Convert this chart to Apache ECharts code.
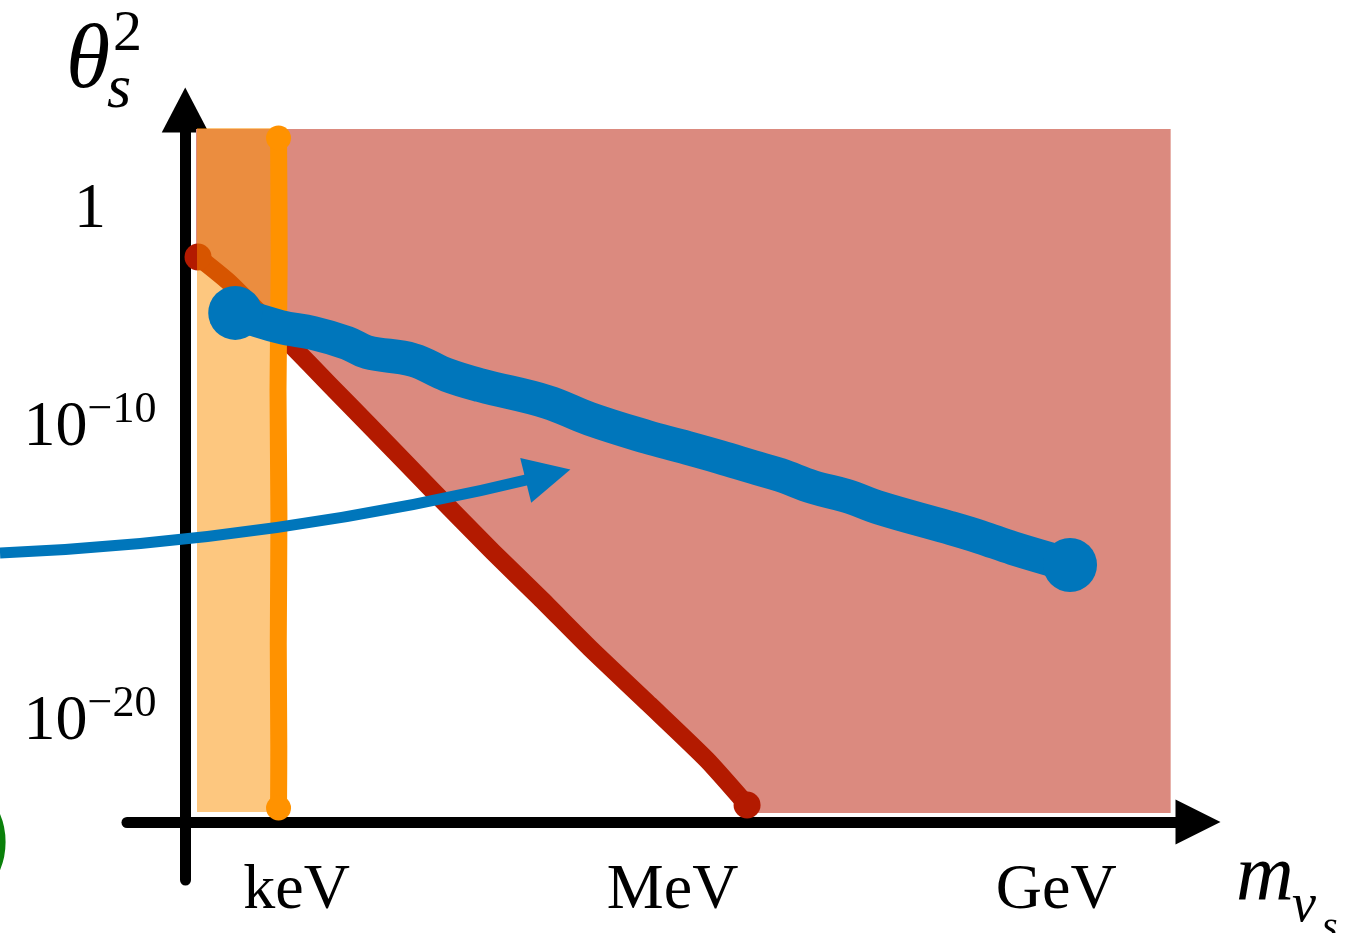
<!DOCTYPE html>
<html>
<head>
<meta charset="utf-8">
<script src="https://cdn.jsdelivr.net/npm/echarts@6/dist/echarts.min.js"></script>
<style>
html, body { margin: 0; padding: 0; background: #fff; }
#chart { width: 1347px; height: 933px; }
</style>
</head>
<body>
<div id="chart"></div>
<script>
// sketch units: x = decades of mass counted from the vertical axis, y = height above the horizontal axis
var xTickValues = [0.88, 3.85, 6.88];
var xTickLabels = ['keV', 'MeV', 'GeV'];
var yTickValues = [24.07, 15.49, 3.93];
var yTickBase = ['1', '10', '10'];
var yTickExp = ['', '−10', '−20'];

// red bound (diagonal)
var redX = [0.101, 0.354, 0.828, 1.144, 1.460, 1.957, 2.431, 2.803, 3.197, 3.671, 4.122, 4.438];
var redY = [22.22, 21.19, 18.80, 17.18, 15.57, 13.02, 10.62, 8.81, 6.84, 4.60, 2.44, 0.67];

// blue band
var blueX = [0.395, 0.749, 1.009, 1.278, 1.436, 1.799, 2.068, 2.329, 2.858, 3.197, 3.648, 3.908, 4.224, 4.485, 4.698, 4.959, 5.227, 5.488, 6.017, 6.278, 6.539, 6.989];
var blueY = [20.02, 19.47, 19.23, 18.84, 18.48, 18.17, 17.58, 17.18, 16.52, 15.85, 15.14, 14.79, 14.35, 13.96, 13.65, 13.17, 12.82, 12.35, 11.60, 11.21, 10.77, 10.11];

// orange vertical bound
var orangeX = [0.737, 0.742, 0.733, 0.740, 0.735, 0.739, 0.737];
var orangeY = [26.9, 22.0, 17.0, 12.0, 7.0, 3.0, 0.55];

// excluded region corners (closed along the red bound)
var shadeX = [0.085, 7.784, 7.784, 4.438];
var shadeY = [27.25, 27.25, 0.354, 0.354];

// orange band
var bandX = [0.093, 0.737];
var bandY = [0.39, 27.29];

// thin arrow
var arrowFrom = [-1.463, 10.58];
var arrowTo = [2.866, 13.65];

// green ring, mostly off the page
var ringPoint = [-1.976, -0.79];

var SERIF = '"Liberation Serif", "Times New Roman", serif';

function nearest(arr, v) {
    var best = 0;
    for (var i = 1; i < arr.length; i++) {
        if (Math.abs(arr[i] - v) < Math.abs(arr[best] - v)) best = i;
    }
    return best;
}

function pairs(xs, ys) {
    return xs.map(function (x, i) { return [x, ys[i]]; });
}

var redPts = pairs(redX, redY);
var bluePts = pairs(blueX, blueY);
var orangePts = pairs(orangeX, orangeY);
var shadePts = pairs(shadeX, shadeY).concat(redPts.slice(0, -1).reverse());
shadePts.push([shadeX[0], redY[0]]);

// thick hand-drawn stroke through the given points
function stroke(pts, color, width, z, smooth) {
    return {
        type: 'custom',
        silent: true,
        z: z,
        clip: false,
        data: [[0, 0]],
        renderItem: function (params, api) {
            return {
                type: 'polyline',
                shape: { points: pts.map(function (p) { return api.coord(p); }), smooth: smooth },
                style: { stroke: color, lineWidth: width, lineCap: 'round', lineJoin: 'round', fill: null }
            };
        }
    };
}

function ends(pts, color, size, z) {
    return {
        type: 'scatter',
        silent: true,
        z: z,
        clip: false,
        symbolSize: size,
        itemStyle: { color: color, opacity: 1 },
        data: [pts[0], pts[pts.length - 1]]
    };
}

var chart = echarts.init(document.getElementById('chart'));

var option = {
    animation: false,
    backgroundColor: '#fff',
    grid: {
        left: 127,
        right: 149,
        top: 110,
        bottom: 53,
        outerBoundsMode: 'none'
    },
    xAxis: {
        type: 'value',
        min: -0.46,
        max: 8.0,
        axisLine: {
            onZero: true,
            symbol: ['none', 'triangle'],
            symbolSize: [45, 45],
            lineStyle: { color: '#000', width: 11 }
        },
        axisTick: { show: false },
        splitLine: { show: false },
        axisLabel: {
            customValues: xTickValues,
            formatter: function (v) { return xTickLabels[nearest(xTickValues, v)]; },
            fontSize: 64,
            fontFamily: SERIF,
            color: '#000',
            margin: 11,
            verticalAlign: 'middle'
        }
    },
    yAxis: {
        type: 'value',
        min: -2.28,
        max: 28,
        axisLine: {
            onZero: true,
            symbol: ['none', 'triangle'],
            symbolSize: [47, 45],
            lineStyle: { color: '#000', width: 11 }
        },
        axisTick: { show: false },
        splitLine: { show: false },
        axisLabel: {
            customValues: yTickValues,
            formatter: function (v) {
                var i = nearest(yTickValues, v);
                if (!yTickExp[i]) return '{b|' + yTickBase[i] + '}';
                return '{b|' + yTickBase[i] + '}{e|' + yTickExp[i] + '}';
            },
            align: 'center',
            margin: 37,
            rich: {
                b: { fontSize: 64, fontFamily: SERIF, color: '#000' },
                e: { fontSize: 44, fontFamily: SERIF, color: '#000', padding: [0, 0, 36, 0] }
            }
        }
    },
    series: [
        {
            type: 'custom',
            silent: true,
            z: 1,
            data: [[0, 0]],
            renderItem: function (params, api) {
                return {
                    type: 'polygon',
                    shape: { points: shadePts.map(function (p) { return api.coord(p); }) },
                    style: { fill: '#DB8A7F' }
                };
            }
        },
        stroke(redPts, '#B31A00', 18, 2, 0.2),
        ends(redPts, '#B31A00', 27, 2),
        {
            type: 'custom',
            silent: true,
            z: 3,
            data: [[0, 0]],
            renderItem: function (params, api) {
                var a = api.coord([bandX[0], bandY[1]]);
                var b = api.coord([bandX[1], bandY[0]]);
                return {
                    type: 'rect',
                    shape: { x: a[0], y: a[1], width: b[0] - a[0], height: b[1] - a[1] },
                    style: { fill: 'rgba(252,144,0,0.5)' }
                };
            }
        },
        stroke(orangePts, '#FF9200', 17, 4, 0.3),
        ends(orangePts, '#FF9200', 25, 4),
        stroke(bluePts, '#0076BB', 34, 5, 0.4),
        ends(bluePts, '#0076BB', 54, 5),
        {
            type: 'lines',
            coordinateSystem: 'cartesian2d',
            silent: true,
            z: 6,
            clip: false,
            symbol: ['none', 'triangle'],
            symbolSize: 46,
            lineStyle: { color: '#0076BB', width: 11, curveness: -0.05, opacity: 1 },
            data: [{ coords: [arrowFrom, arrowTo] }]
        },
        {
            type: 'scatter',
            silent: true,
            z: 6,
            clip: false,
            symbol: 'circle',
            symbolSize: 130,
            itemStyle: { color: 'rgba(0,0,0,0)', borderColor: '#0A800A', borderWidth: 11, opacity: 1 },
            data: [ringPoint]
        }
    ],
    graphic: [
        { type: 'text', left: 66, top: 18, silent: true,
          style: { text: 'θ', font: 'italic 90px ' + SERIF, fill: '#000' } },
        { type: 'text', left: 113, top: 6, silent: true,
          style: { text: '2', font: '58px ' + SERIF, fill: '#000' } },
        { type: 'text', left: 107, top: 60, silent: true,
          style: { text: 's', font: 'italic 62px ' + SERIF, fill: '#000' } },
        { type: 'text', left: 1236, top: 838, silent: true,
          style: { text: 'm', font: 'italic 80px ' + SERIF, fill: '#000' } },
        { type: 'text', left: 1292, top: 880, silent: true,
          style: { text: 'ν', font: 'italic 54px ' + SERIF, fill: '#000' } },
        { type: 'text', left: 1322, top: 908, silent: true,
          style: { text: 's', font: 'italic 40px ' + SERIF, fill: '#000' } }
    ]
};

chart.setOption(option);
</script>
</body>
</html>
